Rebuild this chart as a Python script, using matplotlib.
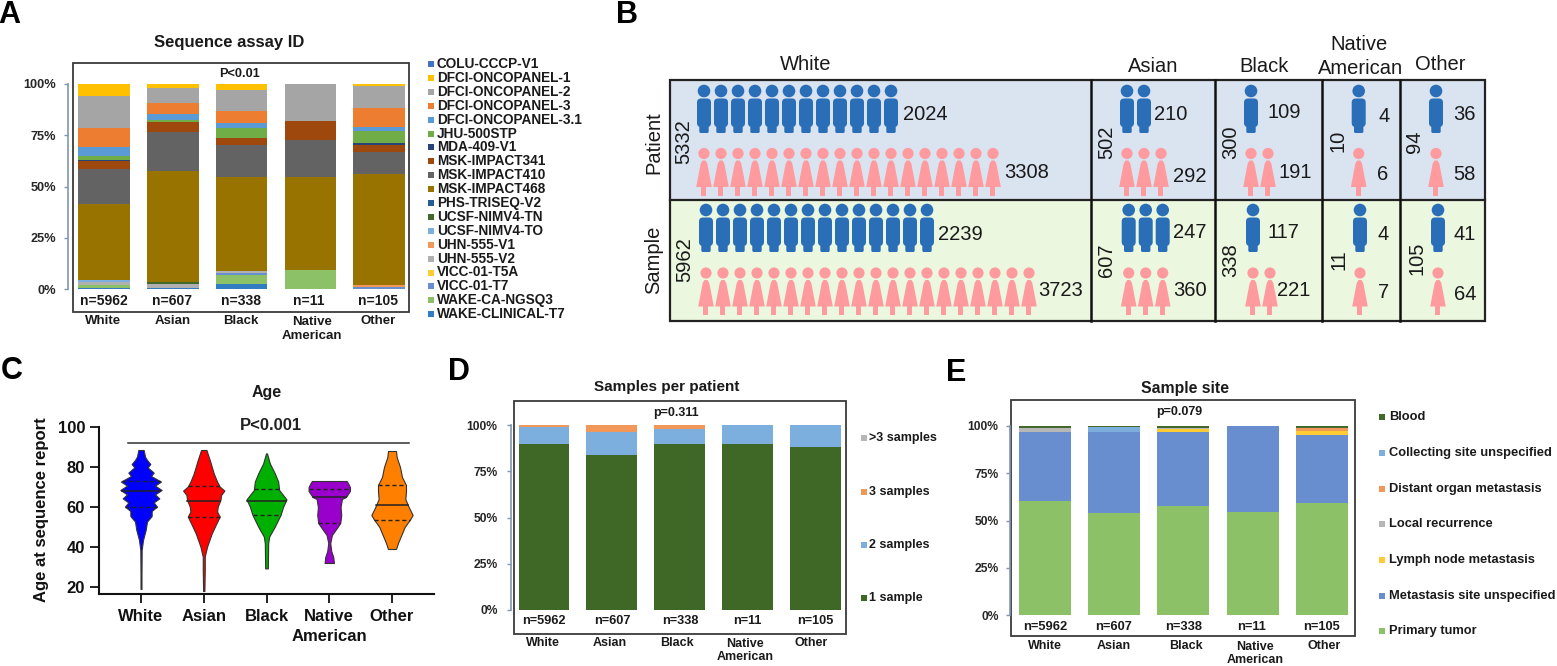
import matplotlib
matplotlib.use("Agg")
import matplotlib.pyplot as plt
from matplotlib.patches import Circle, FancyBboxPatch, Polygon, Rectangle

plt.rcParams['font.family'] = ['Liberation Sans', 'DejaVu Sans']

W, H = 1557, 666
GROUPS = ['White', 'Asian', 'Black', 'Native\nAmerican', 'Other']
GROUP_N = ['n=5962', 'n=607', 'n=338', 'n=11', 'n=105']

# ---------- Panel A data (bottom to top of the stack) ----------
assay_names = ['WAKE-CLINICAL-T7', 'WAKE-CA-NGSQ3', 'VICC-01-T7', 'VICC-01-T5A', 'UHN-555-V2',
               'UHN-555-V1', 'UCSF-NIMV4-TO', 'UCSF-NIMV4-TN', 'PHS-TRISEQ-V2', 'MSK-IMPACT468',
               'MSK-IMPACT410', 'MSK-IMPACT341', 'MDA-409-V1', 'JHU-500STP', 'DFCI-ONCOPANEL-3.1',
               'DFCI-ONCOPANEL-3', 'DFCI-ONCOPANEL-2', 'DFCI-ONCOPANEL-1', 'COLU-CCCP-V1']
assay_colors = ['#327DC2', '#8CC168', '#698ED0', '#FFCD33', '#B0B0B0',
                '#F1975A', '#7CAFDD', '#43682B', '#255E91', '#997300',
                '#636363', '#9E480E', '#264478', '#70AD47', '#5B9BD5',
                '#ED7D31', '#A5A5A5', '#FFC000', '#4472C4']
assay_white = [0.3, 1.5, 0.2, 0, 1.5, 0, 1.0, 0, 0, 36.9, 16.9, 4.2, 0.5, 1.8, 4.4, 9.5, 15.3, 6.0, 0]
assay_asian = [0.5, 0, 0, 0, 1.9, 0, 0, 1.1, 0, 54.0, 19.3, 4.7, 0, 0.8, 3.1, 5.3, 7.3, 2.0, 0]
assay_black = [2.6, 4.1, 1.3, 0, 0.8, 0, 0, 0, 0, 45.6, 15.7, 3.8, 0, 4.5, 2.6, 5.7, 10.2, 3.1, 0]
assay_native = [0, 9.1, 0, 0, 0, 0, 0, 0, 0, 45.4, 18.2, 9.1, 0, 0, 0, 0, 18.2, 0, 0]
assay_other = [0, 0, 1.0, 0, 0, 0.9, 0, 0, 0, 54.3, 10.5, 3.6, 1.1, 5.7, 1.8, 9.4, 10.6, 1.1, 0]
assay_table = [assay_white, assay_asian, assay_black, assay_native, assay_other]

# ---------- Panel B data ----------
b_columns = ['White', 'Asian', 'Black', 'Native', 'Other']
patient_male = [2024, 210, 109, 4, 36]
patient_female = [3308, 292, 191, 6, 58]
patient_total = [5332, 502, 300, 10, 94]
sample_male = [2239, 247, 117, 4, 41]
sample_female = [3723, 360, 221, 7, 64]
sample_total = [5962, 607, 338, 11, 105]
icons_patient_male = [12, 2, 1, 1, 1]
icons_patient_female = [18, 3, 2, 1, 1]
icons_sample_male = [14, 3, 1, 1, 1]
icons_sample_female = [20, 3, 2, 1, 1]

# ---------- Panel C data (age, half width of the violin) ----------
age_white = [88.5, 85.2, 83.5, 81.5, 79.8, 77.2, 75.5, 72.7, 70.7, 68.5, 66.3, 64.3, 62.3, 60.2, 58, 55.5,
             52.7, 48.5, 43.5, 38.5, 26.8, 19]
dens_white = [8, 12, 18, 28, 20, 38, 30, 60, 42, 62, 42, 55, 38, 48, 32, 32, 18, 14, 6, 2, 1.5, 1.5]
age_asian = [88.5, 83.5, 76.8, 72.7, 70.2, 68.2, 66, 63.5, 60.2, 57.7, 55.2, 51.8, 46.8, 40.2, 35.2, 28, 24, 18]
dens_asian = [8, 18, 30, 40, 48, 62, 52, 50, 42, 40, 48, 38, 24, 10, 3, 3, 2.5, 2]
age_black = [86.8, 81.8, 76.8, 72.7, 68.5, 63.8, 60.2, 56, 50.2, 45.2, 41.8, 29.3]
dens_black = [1.5, 10, 25, 35, 38, 60, 50, 42, 25, 8, 5, 4]
age_native = [73, 72, 70, 68, 65, 64, 60, 56, 52, 50, 46, 42, 38, 35, 32]
dens_native = [52, 56, 62, 62, 50, 38, 34, 36, 33, 25, 8, 3, 6, 12, 14]
age_other = [88, 85, 80, 75, 71, 68, 64, 60, 56, 54, 50, 46, 42, 39]
dens_other = [12, 14, 24, 30, 42, 42, 40, 50, 62, 55, 38, 28, 18, 12]
violin_ages = [age_white, age_asian, age_black, age_native, age_other]
violin_dens = [dens_white, dens_asian, dens_black, dens_native, dens_other]
age_median = [68, 63, 63, 65, 61]
age_q1 = [60, 55, 56, 52, 53.5]
age_q3 = [73, 70.5, 69, 69, 71]
violin_colors = ['#0000FF', '#FF0000', '#00B000', '#9900CC', '#FF8000']

# ---------- Panel D data ----------
spp_names = ['1 sample', '2 samples', '3 samples', '>3 samples']
spp_colors = ['#3F6826', '#7CAFDD', '#F1975A', '#B7B7B7']
spp_1 = [89.9, 83.6, 89.9, 90.0, 88.3]
spp_2 = [8.8, 12.8, 7.8, 10.0, 11.7]
spp_3 = [1.3, 3.6, 2.3, 0, 0]
spp_4 = [0, 0, 0, 0, 0]

# ---------- Panel E data ----------
site_names = ['Primary tumor', 'Metastasis site unspecified', 'Lymph node metastasis', 'Local recurrence',
              'Distant organ metastasis', 'Collecting site unspecified', 'Blood']
site_colors = ['#8CC168', '#698ED0', '#FFCD33', '#B7B7B7', '#F1975A', '#7CAFDD', '#43682B']
site_primary = [60.3, 53.8, 57.7, 54.5, 59.1]
site_meta = [36.3, 42.8, 38.9, 45.5, 35.9]
site_lymph = [0.2, 0.2, 2.0, 0, 2.5]
site_local = [1.9, 0.2, 0.2, 0, 0]
site_distant = [0.1, 0, 0.3, 0, 1.3]
site_collect = [0.3, 2.6, 0, 0, 0]
site_blood = [0.9, 0.4, 0.9, 0, 1.2]

fig = plt.figure(figsize=(W / 100, H / 100), dpi=100, facecolor='white')


def px_axes(x0, y0, x1, y1):
    return fig.add_axes([x0 / W, 1 - y1 / H, (x1 - x0) / W, (y1 - y0) / H])


overlay = fig.add_axes([0, 0, 1, 1], zorder=10)
overlay.set_xlim(0, W)
overlay.set_ylim(H, 0)
overlay.axis('off')
overlay.patch.set_alpha(0)


def ptext(x, y, s, size=9, weight='bold', ha='center', color='#1a1a1a', rotation=0):
    overlay.text(x, y, s, fontsize=size, fontweight=weight, ha=ha, va='center', color=color,
                 rotation=rotation, linespacing=1.2)


def stacked(frame, y100, y0, first, step, bar_w, series, colors, spine_out, tick_size, tick_right):
    x0, top, x1, bot = frame
    ax = px_axes(x0, top, x1, bot)
    per = (y0 - y100) / 100
    ax.set_ylim((y0 - bot) / per, (y0 - top) / per)
    ax.set_xlim((x0 - first) / step, (x1 - first) / step)
    bottoms = [0] * 5
    for vals, col in zip(series, colors):
        ax.bar(range(5), vals, bottom=bottoms, width=bar_w / step, color=col, linewidth=0)
        bottoms = [b + v for b, v in zip(bottoms, vals)]
    for s in ('top', 'right', 'bottom'):
        ax.spines[s].set_visible(False)
    ax.spines['left'].set_position(('outward', spine_out * 0.72))
    ax.spines['left'].set_bounds(0, 100)
    ax.spines['left'].set_color('#7f97b2')
    ax.spines['left'].set_linewidth(1.2)
    ax.set_yticks([0, 25, 50, 75, 100], ['0%', '25%', '50%', '75%', '100%'])
    ax.tick_params(axis='y', length=3.2, width=1, color='#7f97b2', labelsize=tick_size,
                   labelcolor='#262626', pad=(x0 - spine_out - 4 - tick_right) * 0.72)
    for lab in ax.get_yticklabels():
        lab.set_fontweight('bold')
    ax.set_xticks([])
    ax.add_patch(Rectangle((0, 0), 1, 1, transform=ax.transAxes, fill=False, ec='#3a3a3a', lw=1.3, clip_on=False))
    return ax


# ---------- Panel A ----------
series_a = [[row[i] for row in assay_table] for i in range(len(assay_names))]
stacked((73, 63, 409, 312), 84, 289, 104, 68.8, 51.5, series_a, assay_colors, 5, 9.2, 56.5)
ptext(229, 42, 'Sequence assay ID', 12)
ptext(240, 74, 'P<0.01', 9.2)
for x, n in zip([104, 172, 241, 309, 378], GROUP_N):
    ptext(x, 301, n, 10)
for x, g in zip([103.5, 172.5, 241, 312, 378], GROUPS):
    ptext(x, 329 if '\n' in g else 321, g, 9.5)
for i, (name, col) in enumerate(zip(reversed(assay_names), reversed(assay_colors))):
    y = 64 + i * 13.9
    overlay.add_patch(Rectangle((428, y - 3), 6, 6, fc=col, ec='none'))
    ptext(437, y, name, 9.8, ha='left')

# ---------- Panel B ----------
MALE = '#2A6EB7'
FEMALE = '#FF9A9E'


def male(x, head_y):
    overlay.add_patch(Circle((x, head_y), 6.3, fc=MALE, ec='none'))
    overlay.add_patch(FancyBboxPatch((x - 5, head_y + 9.5), 10, 24.5, boxstyle='round,pad=2,rounding_size=4',
                                     fc=MALE, ec='none'))
    overlay.add_patch(FancyBboxPatch((x - 4.2, head_y + 34), 8.4, 7.5, boxstyle='round,pad=0.5,rounding_size=1.5',
                                     fc=MALE, ec='none'))


def female(x, head_y):
    overlay.add_patch(Circle((x, head_y), 5.6, fc=FEMALE, ec='none'))
    overlay.add_patch(Polygon([(x - 1.5, head_y + 7), (x + 1.5, head_y + 7), (x + 3.3, head_y + 10),
                               (x + 7.8, head_y + 33.5), (x - 7.8, head_y + 33.5), (x - 3.3, head_y + 10)],
                              fc=FEMALE, ec='none'))
    overlay.add_patch(Rectangle((x - 2.5, head_y + 33), 5, 9, fc=FEMALE, ec='none'))


col_edges = [670, 1091, 1215, 1322, 1400, 1485]
overlay.add_patch(Rectangle((670, 80), 815, 120, fc='#DAE3F0', ec='none'))
overlay.add_patch(Rectangle((670, 200), 815, 121, fc='#EBF7DF', ec='none'))
overlay.add_patch(Rectangle((670, 80), 815, 241, fill=False, ec='#222222', lw=1.6))
overlay.plot([670, 1485], [200, 200], color='#222222', lw=1.6)
for x in col_edges[1:-1]:
    overlay.plot([x, x], [80, 321], color='#111111', lw=1.8)

icon_x_patient = [704, 1127, 1251, 1358.7, 1436]
icon_x_sample = [706, 1128.7, 1253, 1360, 1438]
for j in range(5):
    for k in range(icons_patient_male[j]):
        male(icon_x_patient[j] + k * 17, 91)
    for k in range(icons_patient_female[j]):
        female(icon_x_patient[j] + k * 17, 153.5)
    for k in range(icons_sample_male[j]):
        male(icon_x_sample[j] + k * 17, 210)
    for k in range(icons_sample_female[j]):
        female(icon_x_sample[j] + k * 17, 273)

pm_xy = [(925, 115), (1171, 115), (1284, 113), (1384, 117), (1464, 115)]
pf_xy = [(1027, 172), (1190, 176), (1295, 173), (1383, 175), (1464, 175)]
sm_xy = [(960, 235), (1190, 233), (1283, 233), (1383, 234), (1465, 234)]
sf_xy = [(1061, 290), (1190, 290), (1294, 290), (1384, 293), (1465, 295)]
pt_xy = [(684, 142), (1107, 142), (1231, 142), (1338, 141), (1415, 142)]
st_xy = [(685, 260), (1107, 260), (1231, 260), (1339, 260), (1417, 258)]
for j in range(5):
    ptext(*pm_xy[j], str(patient_male[j]), 14.5, 'normal')
    ptext(*pf_xy[j], str(patient_female[j]), 14.5, 'normal')
    ptext(*sm_xy[j], str(sample_male[j]), 14.5, 'normal')
    ptext(*sf_xy[j], str(sample_female[j]), 14.5, 'normal')
    overlay.text(*pt_xy[j], str(patient_total[j]), fontsize=14.5, rotation=90, ha='center', va='center', color='#1a1a1a')
    overlay.text(*st_xy[j], str(sample_total[j]), fontsize=14.5, rotation=90, ha='center', va='center', color='#1a1a1a')
overlay.text(654, 143, 'Patient', fontsize=14.5, rotation=90, ha='center', va='center', color='#1a1a1a')
overlay.text(654, 260, 'Sample', fontsize=14.5, rotation=90, ha='center', va='center', color='#1a1a1a')
ptext(806, 65, 'White', 14.5, 'normal')
ptext(1153, 66, 'Asian', 14.5, 'normal')
ptext(1264, 66, 'Black', 14.5, 'normal')
ptext(1359, 44, 'Native', 14.5, 'normal')
ptext(1361, 68, 'American', 14.5, 'normal')
ptext(1440, 65, 'Other', 14.5, 'normal')

# ---------- Panel C ----------
axc = px_axes(99, 420, 434, 594)
axc.patch.set_alpha(0)
axc.set_ylim(20 - 7 / 2, 20 + (587 - 420) / 2)
axc.set_xlim((99 - 141) / 62.75, (434 - 141) / 62.75)
DENS_SCALE = 1 / (3 * 62.75)
for i in range(5):
    ages, dens = violin_ages[i], violin_dens[i]
    half = [d * DENS_SCALE for d in dens]
    axc.fill_betweenx(ages, [i - h for h in half], [i + h for h in half], color=violin_colors[i],
                      ec='#333333', lw=0.8, zorder=2)
    asc_ages, asc_half = ages[::-1], half[::-1]
    for a, ls, lw in [(age_median[i], '-', 1.1), (age_q1[i], (0, (3, 2)), 1.0), (age_q3[i], (0, (3, 2)), 1.0)]:
        h = next(asc_half[k] + (a - asc_ages[k]) * (asc_half[k + 1] - asc_half[k]) / (asc_ages[k + 1] - asc_ages[k])
                 for k in range(len(asc_ages) - 1) if asc_ages[k] <= a <= asc_ages[k + 1])
        axc.plot([i - h, i + h], [a, a], color='#222222', ls=ls, lw=lw, zorder=3)
axc.plot([-0.2, 4.27], [92, 92], color='#333333', lw=1.1)
for s in ('top', 'right'):
    axc.spines[s].set_visible(False)
for s in ('left', 'bottom'):
    axc.spines[s].set_linewidth(1.5)
    axc.spines[s].set_color('#111111')
axc.spines['left'].set_bounds(axc.get_ylim()[0], 100)
axc.set_yticks([20, 40, 60, 80, 100])
axc.set_xticks(range(5), GROUPS)
axc.tick_params(axis='both', length=6.5, width=1.3, labelsize=12, color='#111111', labelcolor='#111111')
axc.tick_params(axis='x', pad=4.5)
for lab in axc.get_xticklabels() + axc.get_yticklabels():
    lab.set_fontweight('bold')
    lab.set_linespacing(1.4)
ptext(267, 393, 'Age', 11.5)
ptext(271, 425, 'P<0.001', 12, color='#222222')
overlay.text(42, 510, 'Age at sequence report', fontsize=12, fontweight='bold', rotation=90,
             ha='center', va='center', color='#111111')

# ---------- Panel D ----------
stacked((514, 401, 846, 634), 425, 610, 544, 67.8, 50.7, [spp_1, spp_2, spp_3, spp_4], spp_colors, 3.5, 8.7, 498)
ptext(667, 387, 'Samples per patient', 11)
ptext(676, 413, 'p=0.311', 9)
for x, n in zip([544, 612, 680, 747, 815], GROUP_N):
    ptext(x, 621, n, 9.2)
for x, g in zip([543, 610, 677, 745, 811], GROUPS):
    ptext(x, 650.5 if '\n' in g else 643, g, 9)
for y, name, col in zip([598, 545, 492, 438], spp_names, spp_colors):
    overlay.add_patch(Rectangle((861, y - 3), 6, 6, fc=col, ec='none'))
    ptext(869, y, name, 9, ha='left')

# ---------- Panel E ----------
series_e = [site_primary, site_meta, site_lymph, site_local, site_distant, site_collect, site_blood]
stacked((1011, 400, 1355, 636), 426, 615, 1045, 69.2, 52, series_e, site_colors, 1.5, 8.7, 999)
ptext(1185, 388, 'Sample site', 11.3)
ptext(1179, 412, 'p=0.079', 9)
for x, n in zip([1045.5, 1114, 1184, 1252, 1322], GROUP_N):
    ptext(x, 627, n, 9.3)
for x, g in zip([1045, 1114, 1186, 1255, 1324], GROUPS):
    ptext(x, 653.5 if '\n' in g else 646, g, 9)
for y, name, col in zip([631, 596, 560, 524, 489, 453, 417], site_names, site_colors):
    overlay.add_patch(Rectangle((1379, y - 3), 6, 6, fc=col, ec='none'))
    ptext(1389, y, name, 9.3, ha='left')

# ---------- Panel letters ----------
for x, y, s in [(9, 15, 'A'), (627, 15, 'B'), (12, 371, 'C'), (459, 372, 'D'), (956, 373, 'E')]:
    ptext(x, y, s, 22, color='black')

fig.savefig('out.png', dpi=100)
